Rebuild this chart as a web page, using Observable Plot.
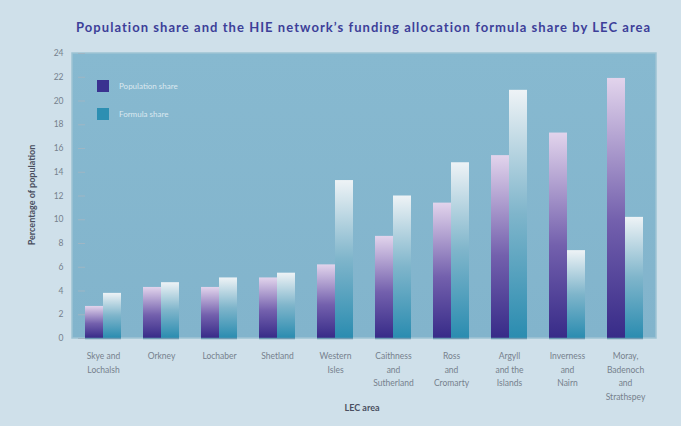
<!DOCTYPE html>
<html><head><meta charset="utf-8">
<script src="https://cdn.jsdelivr.net/npm/d3@7"></script>
<script src="https://cdn.jsdelivr.net/npm/@observablehq/plot@0.6"></script>
<style>
html,body{margin:0;padding:0;overflow:hidden;background:#cfe0ea;}
#wrap{position:relative;width:681px;height:426px;font-family:Lato,"Open Sans",sans-serif;}
#title{position:absolute;left:76px;top:19px;font-size:13px;font-weight:bold;color:#3d3f99;white-space:nowrap;letter-spacing:1.05px;}
#chart{position:absolute;left:0;top:40px;}
.leg{position:absolute;left:97px;font-size:8px;color:#dbe8ef;display:flex;align-items:center;gap:10px;}
.sw{width:12px;height:12px;display:inline-block;}
#ylab{position:absolute;left:31px;top:195px;transform:translate(-50%,-50%) rotate(-90deg);font-size:9px;font-weight:bold;color:#4a4f60;white-space:nowrap;}
#xlab{position:absolute;left:362px;top:402px;transform:translateX(-50%);font-size:9px;font-weight:bold;color:#4a4f60;}
</style></head>
<body><div id="wrap">
<div id="title">Population share and the HIE network’s funding allocation formula share by LEC area</div>
<div id="chart"></div>
<div class="leg" style="top:80px"><span class="sw" style="background:#3a3290"></span>Population share</div>
<div class="leg" style="top:108px"><span class="sw" style="background:#2d8fb2"></span>Formula share</div>
<div id="ylab">Percentage of population</div>
<div id="xlab">LEC area</div>
</div>
<script>
const areas = ["Skye and Lochalsh","Orkney","Lochaber","Shetland","Western Isles","Caithness and Sutherland","Ross and Cromarty","Argyll and the Islands","Inverness and Nairn","Moray, Badenoch and Strathspey"];
const areaLabels = ["Skye and\nLochalsh","Orkney","Lochaber","Shetland","Western\nIsles","Caithness\nand\nSutherland","Ross\nand\nCromarty","Argyll\nand the\nIslands","Inverness\nand\nNairn","Moray,\nBadenoch\nand\nStrathspey"];
const series = ["Population share","Formula share"];
const populationShare = [2.7, 4.3, 4.3, 5.1, 6.2, 8.6, 11.4, 15.4, 17.3, 21.9];
const formulaShare = [3.8, 4.7, 5.1, 5.5, 13.3, 12.0, 14.8, 20.9, 7.4, 10.2];
const yTicks = [0,2,4,6,8,10,12,14,16,18,20,22,24];

const data = areas.flatMap((a,i)=>[
  {area:a, series:series[0], value:populationShare[i]},
  {area:a, series:series[1], value:formulaShare[i]}
]);
const labelOf = Object.fromEntries(areas.map((a,i)=>[a, areaLabels[i]]));

const W=681, H=386, mL=72, mR=25, mT=13, mB=88;
const chart = Plot.plot({
  width:W, height:H, marginTop:mT, marginLeft:mL, marginRight:mR, marginBottom:mB,
  style:{background:"transparent", fontFamily:"Lato, sans-serif", fontSize:"8.5px", color:"#76818d", overflow:"visible"},
  fx:{domain:areas, paddingInner:0.38, paddingOuter:0.19, label:null},
  x:{domain:series, padding:0, axis:null},
  y:{domain:[0,24], label:null},
  color:{domain:series, range:["url(#gPop)","url(#gForm)"]},
  marks:[
    Plot.barY(data,{fx:"area", x:"series", y:"value", fill:"series"}),
    Plot.ruleY([0],{stroke:"#6d9ab2", strokeWidth:1.5}),
    Plot.axisFx({anchor:"bottom", tickFormat:d=>labelOf[d], tickSize:0, tickPadding:11, lineHeight:1.6, label:null}),
    Plot.axisY({ticks:yTicks, tickSize:7, tickPadding:15, label:null, stroke:"#9fb6c4", fill:"#76818d"})
  ]
});
const svg = d3.select(chart);
svg.insert("rect", ":first-child")
  .attr("x", mL).attr("y", mT).attr("width", W-mL-mR).attr("height", H-mT-mB)
  .attr("fill", "url(#gBg)").attr("stroke", "#9fc3d4").attr("stroke-width", 1.5);
svg.insert("defs", ":first-child").html(`
  <linearGradient id="gPop" x1="0" y1="1" x2="0" y2="0">
    <stop offset="0" stop-color="#372b88"/>
    <stop offset="0.45" stop-color="#7360ad"/>
    <stop offset="1" stop-color="#e2d4ec"/>
  </linearGradient>
  <linearGradient id="gForm" x1="0" y1="1" x2="0" y2="0">
    <stop offset="0" stop-color="#2a8cb0"/>
    <stop offset="0.5" stop-color="#7fb5cb"/>
    <stop offset="1" stop-color="#eef3f6"/>
  </linearGradient>
  <linearGradient id="gBg" x1="0" y1="0" x2="0" y2="1">
    <stop offset="0" stop-color="#87b9d0"/>
    <stop offset="1" stop-color="#82b4cc"/>
  </linearGradient>`);
document.getElementById("chart").append(chart);
</script>
</body></html>
